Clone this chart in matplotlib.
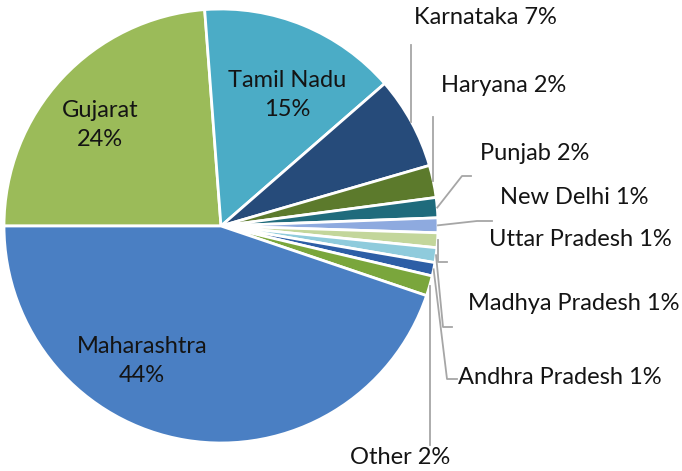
import numpy as np
import matplotlib
matplotlib.use("Agg")
import matplotlib.pyplot as plt

# Data (share of total, %)
states = ["Gujarat", "Tamil Nadu", "Karnataka", "Haryana", "Punjab", "New Delhi",
          "Uttar Pradesh", "Madhya Pradesh", "Andhra Pradesh", "Other", "Maharashtra"]
shares = [23.8, 14.8, 6.9, 2.4, 1.5, 1.1, 1.1, 1.1, 1.0, 1.5, 44.8]
pct_labels = ["24%", "15%", "7%", "2%", "2%", "1%", "1%", "1%", "1%", "2%", "44%"]
colors = ["#9bbb59", "#4bacc6", "#264b7a", "#5c7a2c", "#1f6b7c", "#8eaadf",
          "#c3d69b", "#8fcbdc", "#2d5ea6", "#7aa63c", "#4a7fc3"]

plt.rcParams['font.family'] = ['Lato', 'DejaVu Sans']

W, H = 682, 471
fig = plt.figure(figsize=(W / 100, H / 100), dpi=100)
# pie centre (221,226) px, radius 217 px
cx, cy, R = 221, 226, 217
ax = fig.add_axes([(cx - R) / W, (H - cy - R) / H, 2 * R / W, 2 * R / H])

wedges, _ = ax.pie(shares, colors=colors, startangle=180, counterclock=False, radius=1,
                   wedgeprops=dict(edgecolor="white", linewidth=2))
ax.set_xlim(-1, 1)
ax.set_ylim(-1, 1)
ax.axis("off")


def px(x, y):
    # pixel position -> data coords
    return (x - cx) / R, (cy - y) / R


def anchor(w, r=1.0):
    a = np.deg2rad((w.theta1 + w.theta2) / 2)
    return r * np.cos(a), r * np.sin(a)


fs = 17
# labels inside the big slices
inside = {"Gujarat": (100, 125), "Tamil Nadu": (287, 95), "Maharashtra": (142, 361)}
for name, (x, y) in inside.items():
    i = states.index(name)
    ax.text(*px(x, y), name + "\n" + pct_labels[i], ha="center", va="center",
            fontsize=fs, color="#141414", linespacing=1.5)

# outside labels: text position (left x, centre y) and leader path (px)
outside = {
    "Karnataka": ((414, 17), [(None, 45)]),
    "Haryana": ((441, 86), [(None, 117)]),
    "Punjab": ((480, 153), [(462, 176), (471, 176)]),
    "New Delhi": ((500, 198), [(477, 221), (492, 221)]),
    "Uttar Pradesh": ((489, 240), [(None, 262), (447, 262)]),
    "Madhya Pradesh": ((468, 303), [(443, 327), (452, 327)]),
    "Andhra Pradesh": ((458, 377), [(447, 379), (457, 379)]),
    "Other": ((400, 458), [(None, 445)]),
}
lc = "#a6a6a6"
for name, ((tx, ty), path) in outside.items():
    i = states.index(name)
    ax0, ay0 = anchor(wedges[i])
    xs, ys = [ax0], [ay0]
    for (x, y) in path:
        dx, dy = px(x if x is not None else 0, y)
        if x is None:
            dx = ax0
        xs.append(dx)
        ys.append(dy)
    ax.plot(xs, ys, color=lc, lw=1.3, clip_on=False)
    ha = "center" if name == "Other" else "left"
    ax.text(*px(tx, ty), name + " " + pct_labels[i], ha=ha, va="center",
            fontsize=fs, color="#141414", clip_on=False)

fig.savefig("out.png", dpi=100)
